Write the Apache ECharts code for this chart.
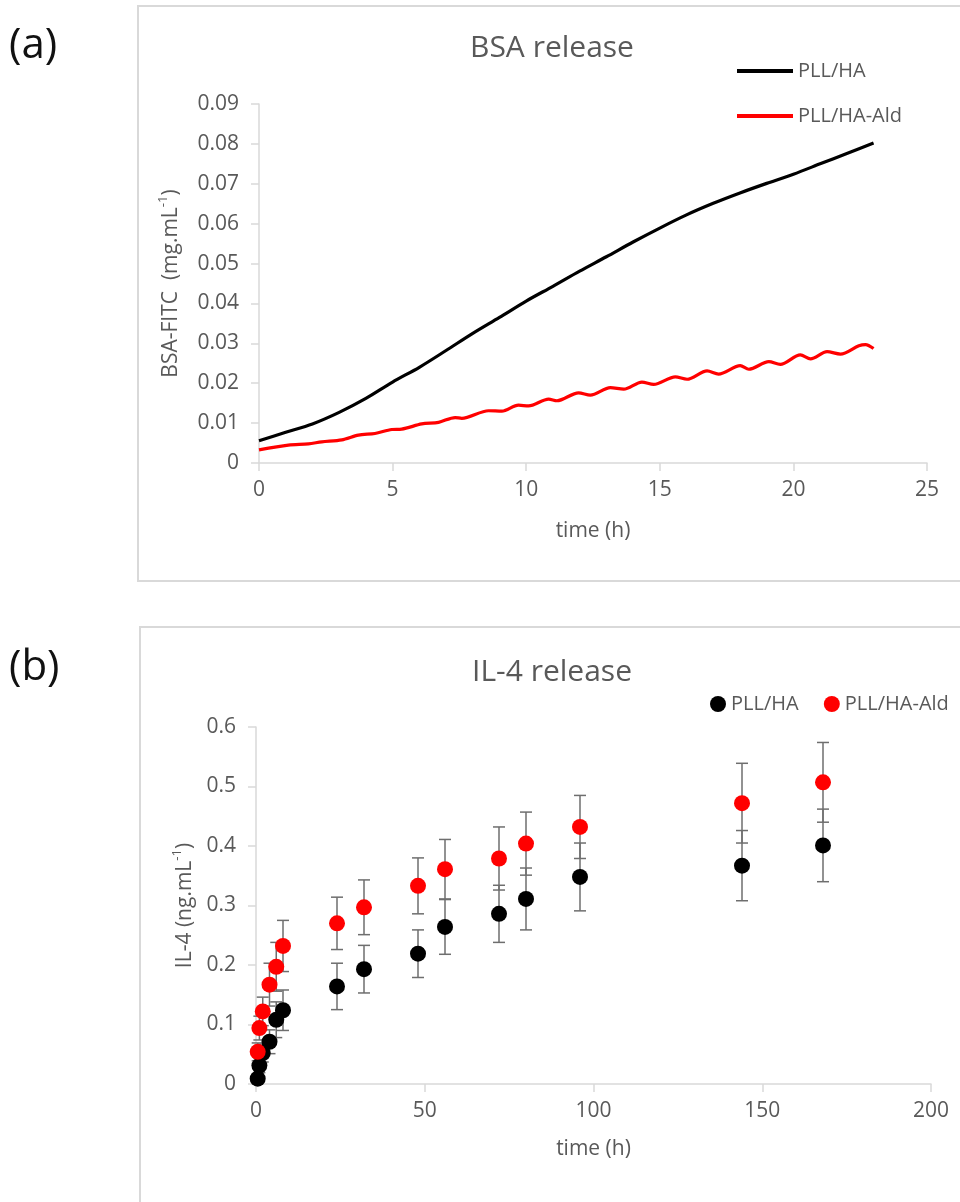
<!DOCTYPE html>
<html>
<head>
<meta charset="utf-8">
<script src="https://cdn.jsdelivr.net/npm/echarts@6/dist/echarts.min.js"></script>
<style>
html,body{margin:0;padding:0;background:#fff;}
#chart{width:960px;height:1202px;}
</style>
</head>
<body>
<div id="chart"></div>
<script>
// ---------- (a) BSA release ----------
const bsaXTicks = [0, 5, 10, 15, 20, 25];
const bsaYTicks = [0, 0.01, 0.02, 0.03, 0.04, 0.05, 0.06, 0.07, 0.08, 0.09];
const bsaTimePLLHA = [0,1,2,3,4,5,6,7,8,9,10,11,12,13,14,15,16,17,18,19,20,21,22,23];
const bsaPLLHA = [0.0056,0.0077,0.0098,0.0127,0.0162,0.0203,0.0240,0.0282,0.0325,0.0365,0.0406,0.0443,0.0481,0.0517,0.0554,0.0589,0.0622,0.0651,0.0677,0.0701,0.0724,0.0750,0.0776,0.0802];
const bsaTimeAld = [0,1.1,1.85,2.35,3.1,3.72,4.34,4.97,5.34,6.09,6.72,7.34,7.59,8.59,9.09,9.71,10.09,10.84,11.15,11.96,12.4,13.15,13.65,14.33,14.77,15.58,16.02,16.77,17.2,18.01,18.33,19.08,19.51,20.26,20.64,21.26,21.76,22.45,22.7,23.0];
const bsaAld = [0.0033,0.0045,0.0048,0.0053,0.0058,0.0070,0.0074,0.0084,0.0085,0.0098,0.0102,0.0114,0.0112,0.0131,0.0130,0.0145,0.0143,0.0160,0.0156,0.0176,0.0170,0.0189,0.0185,0.0203,0.0197,0.0216,0.0210,0.0231,0.0223,0.0244,0.0235,0.0254,0.0247,0.0271,0.0261,0.0279,0.0273,0.0294,0.0297,0.0287];

// ---------- (b) IL-4 release ----------
const il4XTicks = [0, 50, 100, 150, 200];
const il4YTicks = [0, 0.1, 0.2, 0.3, 0.4, 0.5, 0.6];
const il4Time = [0.5,1,2,4,6,8,24,32,48,56,72,80,96,144,168];
const il4PLLHA = [0.009,0.031,0.052,0.071,0.108,0.124,0.164,0.193,0.219,0.264,0.286,0.311,0.348,0.367,0.401];
const il4PLLHAErr = [0.008,0.012,0.015,0.020,0.030,0.034,0.039,0.040,0.040,0.046,0.048,0.052,0.057,0.059,0.061];
const il4Ald = [0.054,0.094,0.122,0.167,0.197,0.232,0.270,0.297,0.333,0.361,0.379,0.404,0.432,0.472,0.507];
const il4AldErr = [0.015,0.020,0.024,0.036,0.041,0.043,0.044,0.046,0.047,0.050,0.053,0.053,0.053,0.067,0.067];

const FONT = 'Open Sans';
const TXT = '#595959';
const AXC = '#d9d9d9';
const TICK_FS = 21;
const NAME_FS = 21;

const zip = (a, b) => a.map((v, i) => [v, b[i]]);
const errData = (t, v, e) => t.map((x, i) => [x, v[i] - e[i], v[i] + e[i]]);

function xAxisPair(grid, ticks, name, nameGap) {
  const base = {
    type: 'value', gridIndex: grid,
    min: ticks[0], max: ticks[ticks.length - 1], interval: ticks[1] - ticks[0],
    splitLine: { show: false }
  };
  return [
    Object.assign({}, base, {
      axisLine: { show: true, onZero: false, lineStyle: { color: AXC, width: 1.5 } },
      axisTick: { show: true, length: 8, lineStyle: { color: AXC, width: 1.5 } },
      axisLabel: { color: TXT, fontSize: TICK_FS, fontFamily: FONT, margin: 17 },
      name: name, nameLocation: 'middle', nameGap: nameGap,
      nameTextStyle: { color: TXT, fontSize: NAME_FS, fontFamily: FONT }
    }),
    Object.assign({}, base, {
      axisLine: { show: false },
      axisTick: { show: true, inside: true, length: 8, lineStyle: { color: AXC, width: 1.5 } },
      axisLabel: { show: false }
    })
  ];
}
function yAxisPair(grid, ticks, name, nameGap) {
  const base = {
    type: 'value', gridIndex: grid,
    min: ticks[0], max: ticks[ticks.length - 1], interval: ticks[1] - ticks[0],
    splitLine: { show: false }
  };
  return [
    Object.assign({}, base, {
      axisLine: { show: true, onZero: false, lineStyle: { color: AXC, width: 1.5 } },
      axisTick: { show: true, length: 8, lineStyle: { color: AXC, width: 1.5 } },
      axisLabel: { color: TXT, fontSize: TICK_FS, fontFamily: FONT, margin: 20 },
      name: name, nameLocation: 'middle', nameGap: nameGap,
      nameTextStyle: {
        color: TXT, fontFamily: FONT,
        rich: {
          n: { fontSize: NAME_FS, color: TXT, fontFamily: FONT, lineHeight: 28 },
          s: { fontSize: 13, color: TXT, fontFamily: FONT, verticalAlign: 'top', lineHeight: 28 }
        }
      }
    }),
    Object.assign({}, base, {
      axisLine: { show: false },
      axisTick: { show: true, inside: true, length: 8, lineStyle: { color: AXC, width: 1.5 } },
      axisLabel: { show: false }
    })
  ];
}

function errRender(params, api) {
  const x = api.value(0);
  const p1 = api.coord([x, api.value(1)]);
  const p2 = api.coord([x, api.value(2)]);
  const w = 6;
  const st = { stroke: '#6e6e6e', lineWidth: 1.5 };
  return {
    type: 'group',
    children: [
      { type: 'line', shape: { x1: p1[0], y1: p1[1], x2: p2[0], y2: p2[1] }, style: st },
      { type: 'line', shape: { x1: p1[0] - w, y1: p1[1], x2: p1[0] + w, y2: p1[1] }, style: st },
      { type: 'line', shape: { x1: p2[0] - w, y1: p2[1], x2: p2[0] + w, y2: p2[1] }, style: st }
    ]
  };
}

const chart = echarts.init(document.getElementById('chart'), null, { renderer: 'canvas' });
const option = {
  backgroundColor: '#fff',
  animation: false,
  textStyle: { fontFamily: FONT },
  grid: [
    { left: 259, top: 104, width: 668, height: 359 },
    { left: 256, top: 727, width: 675, height: 357 }
  ],
  xAxis: [].concat(
    xAxisPair(0, bsaXTicks, 'time (h)', 58),
    xAxisPair(1, il4XTicks, 'time (h)', 55)
  ),
  yAxis: [].concat(
    yAxisPair(0, bsaYTicks, '{n|BSA-FITC  (mg.mL}{s|-1}{n|)}', 74),
    yAxisPair(1, il4YTicks, '{n|IL-4 (ng.mL}{s|-1}{n|)}', 57)
  ),
  legend: [
    {
      left: 737, top: 57, padding: 0, orient: 'vertical', itemWidth: 56, itemHeight: 4, itemGap: 17,
      textStyle: { color: TXT, fontSize: 20, fontFamily: FONT, lineHeight: 28 },
      data: [{ name: 'PLL/HA', icon: 'rect' }, { name: 'PLL/HA-Ald', icon: 'rect' }]
    },
    {
      left: 710, top: 694, padding: 0, orient: 'horizontal', itemWidth: 16, itemHeight: 16, itemGap: 20,
      textStyle: { color: TXT, fontSize: 20, fontFamily: FONT },
      data: [{ name: 'PLL/HA ', icon: 'circle' }, { name: 'PLL/HA-Ald ', icon: 'circle' }]
    }
  ],
  graphic: [
    { type: 'rect', silent: true, shape: { x: 138, y: 6, width: 850, height: 575 }, style: { fill: 'none', stroke: AXC, lineWidth: 2 } },
    { type: 'rect', silent: true, shape: { x: 140, y: 627, width: 850, height: 600 }, style: { fill: 'none', stroke: AXC, lineWidth: 2 } },
    { type: 'text', x: 552, y: 48, style: { text: 'BSA release', fontSize: 30, fontFamily: FONT, fill: TXT, textAlign: 'center', textVerticalAlign: 'middle' } },
    { type: 'text', x: 552, y: 672, style: { text: 'IL-4 release', fontSize: 30, fontFamily: FONT, fill: TXT, textAlign: 'center', textVerticalAlign: 'middle' } },
    { type: 'text', x: 9, y: 46, style: { text: '(a)', fontSize: 42, fontFamily: FONT, fill: '#111', textVerticalAlign: 'middle' } },
    { type: 'text', x: 9, y: 668, style: { text: '(b)', fontSize: 42, fontFamily: FONT, fill: '#111', textVerticalAlign: 'middle' } }
  ],
  series: [
    {
      name: 'PLL/HA', type: 'line', xAxisIndex: 0, yAxisIndex: 0,
      data: zip(bsaTimePLLHA, bsaPLLHA), showSymbol: false, smooth: 0.3,
      lineStyle: { color: '#000', width: 3.2 }, itemStyle: { color: '#000' }
    },
    {
      name: 'PLL/HA-Ald', type: 'line', xAxisIndex: 0, yAxisIndex: 0,
      data: zip(bsaTimeAld, bsaAld), showSymbol: false, smooth: 0.3,
      lineStyle: { color: '#ff0000', width: 3.2 }, itemStyle: { color: '#ff0000' }
    },
    {
      type: 'custom', name: 'errHA', xAxisIndex: 2, yAxisIndex: 2, z: 2,
      renderItem: errRender, encode: { x: 0, y: [1, 2] },
      data: errData(il4Time, il4PLLHA, il4PLLHAErr)
    },
    {
      type: 'custom', name: 'errAld', xAxisIndex: 2, yAxisIndex: 2, z: 2,
      renderItem: errRender, encode: { x: 0, y: [1, 2] },
      data: errData(il4Time, il4Ald, il4AldErr)
    },
    {
      name: 'PLL/HA ', type: 'scatter', xAxisIndex: 2, yAxisIndex: 2, z: 3,
      data: zip(il4Time, il4PLLHA), symbolSize: 16, itemStyle: { color: '#000', opacity: 1 }
    },
    {
      name: 'PLL/HA-Ald ', type: 'scatter', xAxisIndex: 2, yAxisIndex: 2, z: 4,
      data: zip(il4Time, il4Ald), symbolSize: 16, itemStyle: { color: '#ff0000', opacity: 1 }
    }
  ]
};
chart.setOption(option);
</script>
</body>
</html>
